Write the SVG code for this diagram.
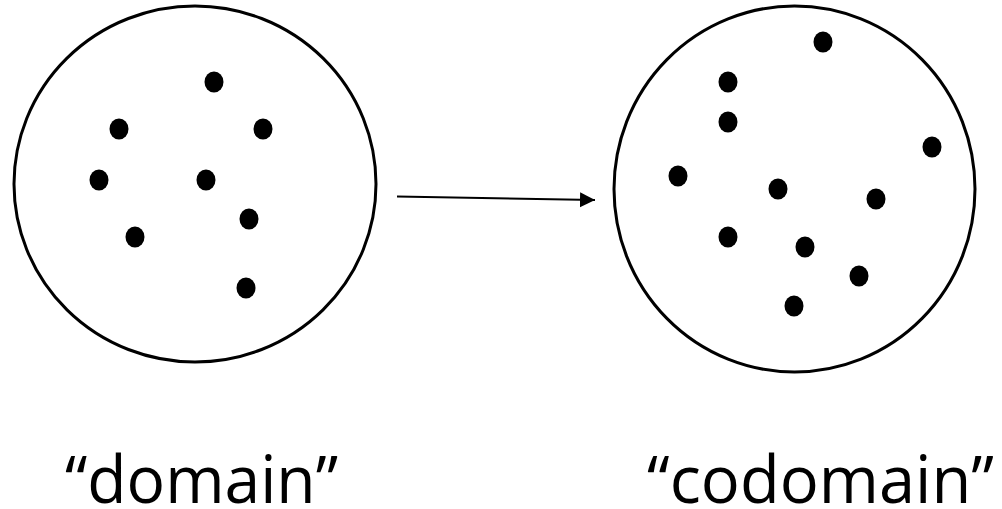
<svg xmlns="http://www.w3.org/2000/svg" width="1002" height="509" viewBox="0 0 1002 509">
<style>
.set{fill:#fff;stroke:#000;stroke-width:3}
.dot{fill:#000}
.lbl{font-family:"Open Sans","Liberation Sans",sans-serif;font-size:66px;fill:#000}
</style>
<defs>
<marker id="ah" markerWidth="16" markerHeight="16" refX="15" refY="7.5" orient="auto" markerUnits="userSpaceOnUse">
<path d="M0,0 L15,7.5 L0,15 Z" fill="#000"/>
</marker>
</defs>
<rect width="1002" height="509" fill="#fff"/>
<g id="domain">
<ellipse class="set" cx="195" cy="184" rx="181" ry="178"/>
<ellipse class="dot" cx="214" cy="82" rx="9.5" ry="10.5"/>
<ellipse class="dot" cx="119" cy="129" rx="9.5" ry="10.5"/>
<ellipse class="dot" cx="263" cy="129" rx="9.5" ry="10.5"/>
<ellipse class="dot" cx="99" cy="180" rx="9.5" ry="10.5"/>
<ellipse class="dot" cx="206" cy="180" rx="9.5" ry="10.5"/>
<ellipse class="dot" cx="249" cy="219" rx="9.5" ry="10.5"/>
<ellipse class="dot" cx="135" cy="237" rx="9.5" ry="10.5"/>
<ellipse class="dot" cx="246" cy="288" rx="9.5" ry="10.5"/>
<text class="lbl" x="65" y="503" textLength="273" lengthAdjust="spacingAndGlyphs">“domain”</text>
</g>
<g id="codomain">
<ellipse class="set" cx="794.5" cy="189" rx="180.5" ry="183"/>
<ellipse class="dot" cx="823" cy="42" rx="9.5" ry="10.5"/>
<ellipse class="dot" cx="728" cy="82" rx="9.5" ry="10.5"/>
<ellipse class="dot" cx="728" cy="122" rx="9.5" ry="10.5"/>
<ellipse class="dot" cx="932" cy="147" rx="9.5" ry="10.5"/>
<ellipse class="dot" cx="678" cy="176" rx="9.5" ry="10.5"/>
<ellipse class="dot" cx="778" cy="189" rx="9.5" ry="10.5"/>
<ellipse class="dot" cx="876" cy="199" rx="9.5" ry="10.5"/>
<ellipse class="dot" cx="728" cy="237" rx="9.5" ry="10.5"/>
<ellipse class="dot" cx="805" cy="247" rx="9.5" ry="10.5"/>
<ellipse class="dot" cx="859" cy="276" rx="9.5" ry="10.5"/>
<ellipse class="dot" cx="794" cy="306" rx="9.5" ry="10.5"/>
<text class="lbl" x="647" y="503" textLength="347" lengthAdjust="spacingAndGlyphs">“codomain”</text>
</g>
<g id="connectors">
<line x1="397" y1="196.5" x2="595" y2="200" stroke="#000" stroke-width="2" marker-end="url(#ah)"/>
</g>
</svg>
